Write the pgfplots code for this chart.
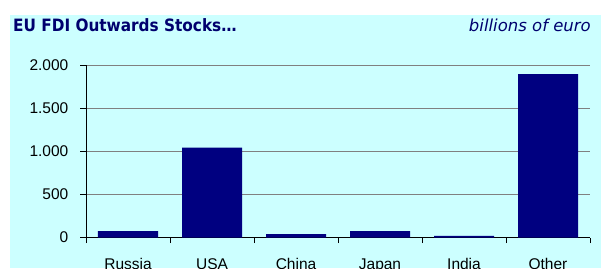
\documentclass[border=0pt]{standalone}
\usepackage{fontspec}
\setmainfont{Liberation Sans}
\newfontfamily\titlefont{DejaVu Sans Condensed}
\newfontfamily\subfont{DejaVu Sans}
\usepackage{pgfplots}
\pgfplotsset{compat=1.18}
\definecolor{bgcyan}{RGB}{204,255,255}
\definecolor{navy}{RGB}{0,0,128}
\definecolor{titlenavy}{RGB}{0,0,110}
\definecolor{gridgray}{RGB}{128,128,128}
\begin{document}
\begin{tikzpicture}[x=1bp,y=1bp]
\fill[white] (-86,237.5) rectangle (526,-30.5);
\fill[bgcyan] (-76,222.5) rectangle (515,-30.5);
\useasboundingbox (-86,237.5) rectangle (526,-30.5);
\node[anchor=base west, inner sep=0, text=titlenavy, font=\titlefont\bfseries\fontsize{17bp}{20bp}\selectfont] at (-73,206.5) {EU FDI Outwards Stocks…};
\node[anchor=base east, inner sep=0, text=titlenavy, font=\subfont\itshape\fontsize{16.5bp}{19bp}\selectfont] at (505,206) {billions of euro};
\begin{axis}[
  at={(0,0)}, anchor=south west,
  scale only axis, width=504bp, height=172.5bp,
  xmin=-0.5, xmax=5.5, ymin=0, ymax=2000,
  axis x line*=bottom, axis y line*=left,
  axis line style={black, line width=0.8bp, -},
  ytick={0,500,1000,1500,2000},
  yticklabels={0,500,1.000,1.500,2.000},
  ymajorgrids, grid style={gridgray, line width=0.8bp},
  xtick={-0.5,0.5,...,5.5}, xticklabels={},
  extra x ticks={0,1,2,3,4,5},
  extra x tick labels={Russia,USA,China,Japan,India,Other},
  extra x tick style={major tick length=0pt, grid=none,
     xticklabel style={inner sep=0pt, anchor=north, yshift=-21bp}},
  tick align=outside, major tick length=5.5bp,
  tick style={black, line width=0.8bp},
  ticklabel style={font=\fontsize{15.5bp}{18bp}\selectfont},
  /pgf/number format/assume math mode=true,
  yticklabel style={inner sep=0pt, anchor=east, xshift=-12bp},
  ybar, bar width=60bp,
]
\addplot[fill=navy, draw=none] coordinates {(0,73) (1,1042) (2,38) (3,74) (4,18) (5,1895)};
\end{axis}
\end{tikzpicture}
\end{document}
